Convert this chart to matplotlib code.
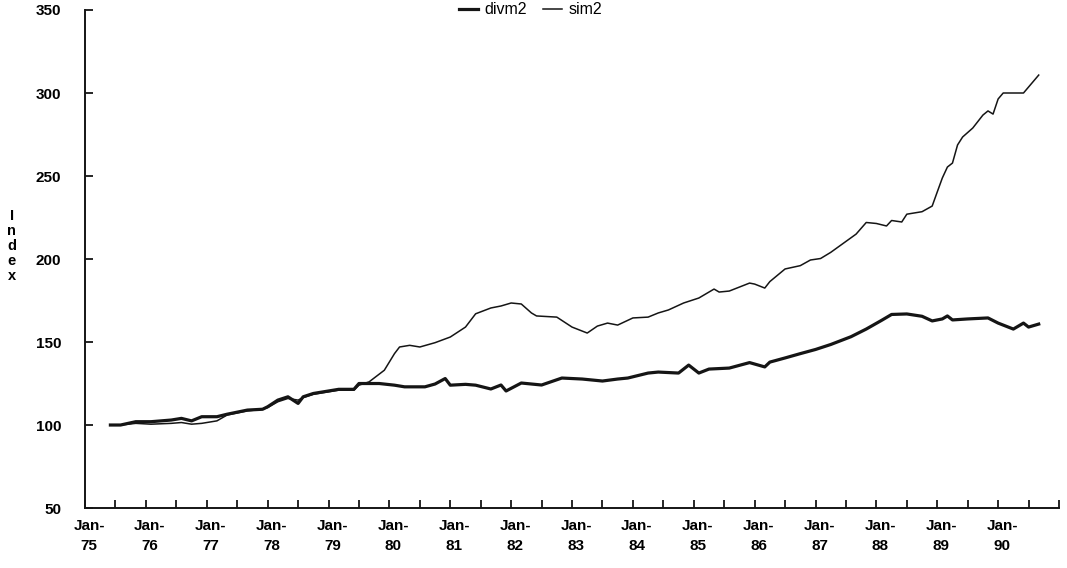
import matplotlib
matplotlib.use('Agg')
import matplotlib.pyplot as plt
import matplotlib.transforms as mtransforms
import numpy as np

plt.rcParams['font.family'] = ['Liberation Sans', 'DejaVu Sans']

# months counted from Jan-75
divm2_month = [5, 7, 10, 13, 17, 19, 21, 23, 26, 28, 32, 35, 36, 38, 40, 42, 43, 45, 48, 50,
               53, 54, 56, 58, 61, 63, 67, 69, 71, 72, 75, 77, 80, 82, 83, 86, 90, 94, 98, 102,
               105, 107, 111, 113, 117, 119, 121, 123, 127, 131, 134, 135, 138, 141, 144, 147,
               151, 154, 157, 159, 162, 165, 167, 169, 170, 171, 174, 178, 180, 181, 183, 185,
               186, 188]
divm2 = [100, 100, 102, 102, 103, 104, 102.5, 105, 105, 106.5, 109, 109.5, 111, 115, 117, 113,
         117, 119, 120.5, 121.5, 121.5, 125, 125, 125, 124, 123, 123, 124.7, 128, 124, 124.5,
         124, 121.7, 124.1, 120.5, 125.3, 124.1, 128.3, 127.7, 126.5, 127.7, 128.3, 131.3,
         131.9, 131.3, 136.1, 131.3, 133.7, 134.3, 137.6, 135, 137.9, 140.4, 143, 145.5, 148.5,
         153.2, 157.8, 163, 166.6, 166.9, 165.5, 162.7, 163.9, 165.7, 163.3, 163.9, 164.5,
         161.4, 160.2, 157.8, 161.4, 159, 160.8]

sim2_month = [5, 7, 10, 13, 17, 19, 21, 23, 26, 28, 32, 35, 36, 38, 40, 42, 43, 45, 48, 50,
              53, 54, 56, 59, 61, 62, 64, 66, 69, 72, 75, 77, 80, 82, 84, 86, 88, 89, 93, 96,
              99, 101, 103, 105, 108, 111, 113, 115, 118, 121, 124, 125, 127, 129, 131, 132,
              134, 135, 138, 141, 143, 145, 147, 149, 152, 154, 156, 158, 159, 161, 162, 165,
              167, 168, 169, 170, 171, 172, 173, 175, 177, 178, 179, 180, 181, 183, 185, 188]
sim2 = [100, 100, 101, 100.5, 101, 101.5, 100.5, 101, 102.5, 106, 108.5, 109.5, 110.5, 114,
        116, 115, 116.5, 118.5, 120, 121, 121, 124, 126, 133, 143, 147, 148, 147, 149.6, 153,
        159, 167, 170.5, 171.7, 173.5, 172.9, 167.5, 165.7, 165, 159, 155.4, 159.6, 161.4,
        160.2, 164.5, 165, 167.5, 169.3, 173.5, 176.5, 181.9, 180.1, 180.7, 183.1, 185.5,
        184.9, 182.5, 186.4, 194, 196, 199.4, 200.3, 204, 208.4, 215, 222, 221.4, 219.9,
        223.2, 222.3, 227, 228.5, 231.9, 240.4, 248.8, 255.4, 257.8, 268.7, 273.5, 278.9,
        286.7, 289.2, 287.3, 296.4, 300, 300, 300, 310.8]

years = ['75', '76', '77', '78', '79', '80', '81', '82', '83', '84', '85', '86', '87', '88',
         '89', '90']

fig = plt.figure(figsize=(10.67, 5.68), dpi=100)
ax = fig.add_axes([0.0797, 0.1056, 0.9128, 0.8768])

ax.plot(divm2_month, divm2, color='#151515', lw=2.3, label='divm2')
ax.plot(sim2_month, sim2, color='#151515', lw=1.1, label='sim2')

ax.set_xlim(0, 192)
ax.set_ylim(50, 350)
ax.set_yticks(np.arange(50, 351, 50))
ax.set_xticks(np.arange(0, 12 * len(years), 12))
ax.set_xticklabels(['Jan-\n' + y for y in years])
ax.set_xticks(np.arange(6, 193, 12).tolist() + [192], minor=True)

for s in ['top', 'right']:
    ax.spines[s].set_visible(False)
for s in ['left', 'bottom']:
    ax.spines[s].set_linewidth(1.4)
    ax.spines[s].set_color('#151515')

ax.tick_params(axis='both', which='both', direction='in', length=6, width=1.3, color='#151515')
ax.tick_params(axis='y', pad=17, labelsize=11)
ax.tick_params(axis='x', pad=8, labelsize=11)
shift = mtransforms.ScaledTranslation(4 / 100, 0, fig.dpi_scale_trans)
for lab in ax.get_xticklabels():
    lab.set_fontweight('bold')
    lab.set_linespacing(1.55)
    lab.set_transform(lab.get_transform() + shift)
for lab in ax.get_yticklabels():
    lab.set_fontweight('bold')

fig.text(0.011, 0.567, 'I\nn\nd\ne\nx', ha='center', va='center', fontsize=10.5,
         fontweight='bold', linespacing=1.1)

leg = ax.legend(loc='center', bbox_to_anchor=(0.457, 1.0), ncol=2, frameon=False,
                handlelength=1.2, handletextpad=0.4, columnspacing=1.0, fontsize=11.5)

plt.savefig('out.png', dpi=100)
